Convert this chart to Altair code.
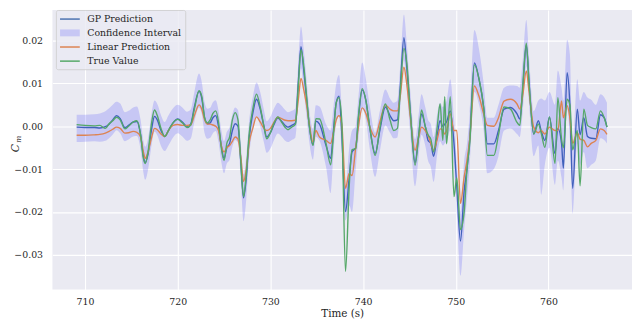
import altair as alt
import pandas as pd

# time (s)
t = [709.1, 710.0, 711.0, 711.6, 712.2, 712.6, 713.0, 713.4, 713.8, 714.3, 714.7, 715.2, 715.6,
     716.0, 716.3, 716.5, 716.8, 717.2, 717.5, 717.8, 718.2, 718.6, 719.0, 719.5, 720.0, 720.5,
     721.0, 721.4, 721.8, 722.3, 722.6, 722.9, 723.2, 723.5, 723.8, 724.1, 724.4, 724.7, 725.0,
     725.3, 725.6, 725.9, 726.2, 726.5, 726.8, 727.1, 727.4, 727.7, 728.1, 728.5, 728.9, 729.3,
     729.6, 730.0, 730.4, 730.8, 731.2, 731.6, 731.9, 732.3, 732.7, 733.0, 733.3, 733.6, 733.9,
     734.2, 734.6, 734.9, 735.3, 736.0, 736.5, 736.8, 737.1, 737.4, 737.7, 738.1, 738.5, 738.8,
     739.2, 739.5, 739.9, 740.3, 740.7, 741.3, 741.8, 742.4, 742.9, 743.3, 743.7, 744.0, 744.4,
     744.7, 745.1, 745.6, 746.0, 746.3, 746.7, 747.0, 747.3, 747.6, 748.0, 748.3, 748.6, 748.8,
     749.0, 749.4, 749.8, 750.1, 750.5, 750.9, 751.2, 751.5, 752.0, 752.5, 753.0, 753.4, 754.1,
     754.6, 755.2, 755.9, 756.6, 756.9, 757.2, 757.6, 757.9, 758.4, 758.9, 759.2, 759.6, 760.1,
     760.7, 761.0, 761.4, 761.6, 762.0, 762.3, 762.6, 763.1, 763.4, 763.8, 764.2, 764.6, 765.1,
     765.6, 766.0, 766.3]

# values in units of 1e-3 (C_m x 1000)
gp_milli = [-0.2, -0.3, -0.3, -0.4, -0.1, 0.5, 1.5, 2.5, 1.8, -0.3, 0.2, 1.0, 1.1,
            -2.0, -7.0, -8.5, -6.5, -0.5, 2.3, 1.5, -1.0, -2.4, -1.0, 0.8, 1.7, 1.0,
            0.0, 0.5, 4.5, 8.2, 6.5, 2.0, 0.6, 0.8, 2.0, 2.5, 0.0, -4.5, -7.5,
            -5.0, -4.0, -1.0, 0.6, 0.0, -8.0, -16.7, -12.0, -3.0, 3.0, 6.3, 4.0, 0.0,
            -2.5, -1.5, 0.5, 1.9, 1.2, 0.2, -0.2, 0.2, 0.8, 10.0, 18.6, 13.0, 6.5,
            0.0, -4.3, 1.2, 0.5, -4.5, -7.5, -1.0, 5.5, 7.0, -1.7, -19.9, -12.0, -6.0,
            -5.0, 2.0, 8.5, 6.0, 0.0, -6.4, -1.0, 4.5, 2.5, 1.3, 1.5, 9.0, 20.7,
            14.0, 3.0, -8.5, -2.0, 2.9, 0.0, -3.3, -4.0, -7.0, -2.0, 1.3, 0.0, 0.5,
            1.0, 3.6, -4.0, -14.0, -26.8, -15.0, -10.0, -3.0, 14.8, 11.0, 4.4, -4.1, -4.1,
            -1.0, 4.0, 4.4, 2.9, 1.7, 8.0, 19.0, 10.0, -1.8, 1.3, -1.0, -3.3, 2.1,
            -6.4, -0.5, -4.0, -9.8, 12.5, 5.0, -14.5, 4.0, -2.0, 2.0, -2.4, -2.8, -2.9,
            2.7, 2.0, -0.2]

lin_milli = [-2.1, -2.1, -2.0, -1.9, -1.6, -1.2, -0.7, -0.2, -0.5, -1.6, -1.5, -1.2, -1.4,
             -2.5, -6.0, -7.5, -6.0, -2.5, -0.5, -0.8, -1.8, -2.4, -1.0, 0.2, 0.4, 0.2,
             0.2, 0.3, 2.5, 5.0, 4.0, 1.5, 0.5, 0.5, 0.3, 0.0, -1.0, -4.5, -6.0,
             -5.0, -4.5, -3.5, -2.5, -3.0, -7.0, -12.9, -10.0, -4.0, -0.5, 2.2, 1.0, -0.5,
             -1.0, -0.5, 1.0, 2.1, 1.8, 1.4, 1.3, 1.3, 1.4, 6.0, 11.2, 8.5, 5.0,
             0.5, -3.7, -1.0, -2.5, -3.3, -4.0, -1.5, 1.5, 2.5, 0.5, -14.5, -11.0, -11.5,
             -5.0, 0.0, 4.3, 3.0, 0.0, -2.5, 1.0, 5.0, 4.0, 3.6, 3.6, 7.0, 13.8,
             10.0, 2.0, -5.6, -2.5, -0.2, -1.0, -2.1, -4.0, -5.6, -3.0, -0.6, -1.0, -1.8,
             -1.0, 2.9, -1.0, -1.0, -18.0, -11.8, -8.0, -3.0, 9.4, 7.0, 2.9, 0.2, 0.0,
             2.0, 5.9, 6.3, 5.2, 4.0, 7.0, 12.9, 8.0, -0.2, -1.5, -1.0, -1.8, -0.2,
             -1.0, -1.0, 5.9, 2.0, 4.8, 2.0, -4.0, -1.5, -3.0, -3.3, -4.8, -4.0, -3.3,
             -0.6, -1.0, -1.9]

true_milli = [0.4, 0.2, 0.1, 0.2, -0.5, 0.6, 1.3, 2.1, 1.5, -0.6, 0.0, 1.0, 1.3,
              -2.0, -7.5, -8.7, -6.0, 1.0, 3.8, 2.5, -0.5, -2.4, -1.0, 0.8, 1.6, 0.8,
              -0.3, 0.3, 4.0, 8.3, 7.0, 2.0, 0.8, 1.5, 3.0, 3.6, 1.0, -5.0, -8.0,
              -4.0, -2.5, 1.5, 3.2, 1.5, -8.0, -16.4, -11.0, -2.0, 4.0, 7.5, 4.5, 0.0,
              -2.9, -1.5, 0.8, 2.2, 1.0, -0.3, -0.8, -0.2, 0.5, 9.0, 17.9, 14.0, 7.0,
              0.0, -4.5, 1.8, 1.7, -4.0, -9.0, -2.0, 5.5, 6.7, 1.0, -33.9, -14.0, -5.5,
              -5.2, 2.5, 8.8, 6.0, 0.0, -6.8, -0.5, 5.2, 1.5, -1.0, -0.5, 8.0, 18.2,
              15.0, 3.0, -9.1, -2.0, 3.8, 0.0, -2.0, -3.0, -6.0, 0.0, 5.2, -3.3, 6.9,
              -4.1, 6.9, -16.4, -12.0, -24.1, -20.0, -10.0, -4.0, 14.4, 11.0, 4.4, -6.8, -6.8,
              -2.0, 4.5, 4.0, 0.9, 0.2, 9.0, 19.4, 10.0, -1.8, 0.5, -1.5, -4.9, 2.2,
              -8.7, 6.7, -3.0, -5.0, 6.3, 5.0, -5.5, -1.0, -13.9, 4.0, 0.2, -0.3, -0.6,
              3.6, 2.0, -0.2]

ci_lo_milli = [-3.7, -3.6, -3.5, -3.6, -3.4, -2.8, -1.9, -0.9, -1.6, -3.5, -3.1, -2.4, -2.3,
               -5.5, -10.8, -12.5, -10.2, -4.2, -1.3, -2.1, -4.6, -5.8, -4.5, -2.6, -1.6, -2.4,
               -3.4, -2.9, 1.0, 4.3, 2.8, -1.6, -2.9, -2.7, -1.6, -1.1, -3.7, -8.3, -11.0,
               -8.7, -7.8, -4.8, -3.2, -3.8, -12.2, -22.2, -17.0, -7.2, -0.8, 2.4, 0.0, -3.8,
               -6.2, -5.2, -3.2, -1.7, -2.4, -3.4, -3.7, -3.2, -2.6, 5.5, 13.5, 8.3, 2.2,
               -3.8, -7.8, -2.5, -3.4, -9.5, -15.6, -6.5, 0.8, 2.3, -7.0, -22.0, -18.5, -20.0,
               -10.0, -2.8, 4.0, 1.5, -5.0, -11.8, -6.0, 0.2, -1.5, -2.8, -2.6, 4.0, 15.3,
               8.8, -2.2, -14.0, -7.0, -2.0, -4.5, -8.0, -9.5, -13.0, -6.5, -3.5, -4.5, -4.0,
               -3.5, -1.0, -9.0, -20.0, -34.9, -24.0, -17.0, -9.0, 8.0, 5.0, -1.0, -11.0, -10.0,
               -7.0, -1.0, -0.5, -1.8, -2.5, 3.0, 14.0, 5.0, -7.0, -4.5, -16.0, -9.0, -5.0,
               -13.7, -8.0, -12.0, -15.0, 4.0, -3.0, -20.6, -4.0, -9.0, -6.0, -9.8, -9.0, -8.0,
               -2.8, -3.2, -4.0]

ci_hi_milli = [2.7, 2.7, 2.8, 3.0, 3.5, 4.2, 5.0, 5.7, 5.3, 3.3, 3.6, 4.4, 4.6,
               1.5, -3.4, -4.8, -2.8, 3.2, 6.0, 5.2, 2.6, 1.0, 2.5, 4.2, 5.0, 4.4,
               3.4, 3.9, 8.0, 12.3, 10.3, 5.6, 4.1, 4.3, 5.6, 6.1, 3.7, -0.8, -3.5,
               -1.3, -0.2, 2.8, 4.4, 3.8, -3.8, -11.2, -7.0, 1.2, 6.8, 10.2, 8.0, 3.8,
               1.2, 2.2, 4.2, 5.5, 4.8, 3.8, 3.3, 3.6, 4.2, 14.5, 23.3, 17.8, 10.8,
               3.8, -0.6, 4.9, 4.6, 0.5, -1.0, 4.5, 10.0, 12.0, 4.0, -14.0, -5.0, -1.0,
               0.0, 7.0, 14.9, 11.0, 5.0, -1.5, 3.5, 8.6, 6.5, 5.5, 6.0, 14.0, 26.1,
               19.5, 8.0, -3.0, 3.0, 7.5, 4.5, 1.5, 0.5, -2.5, 3.0, 5.5, 4.5, 5.0,
               6.0, 11.0, 2.0, -8.0, -20.0, -8.0, -4.0, 3.0, 22.5, 18.0, 10.0, 2.0, 2.0,
               5.0, 9.0, 9.5, 9.4, 9.0, 15.0, 24.8, 16.0, 3.5, 6.0, 6.5, 6.0, 8.0,
               5.0, 13.0, 9.0, 6.0, 20.2, 16.8, -5.0, 11.0, 6.0, 8.0, 6.7, 6.2, 5.0,
               7.5, 6.8, 5.5]

x_ticks = [710, 720, 730, 740, 750, 760]
y_ticks = [-0.03, -0.02, -0.01, 0.00, 0.01, 0.02]
legend_labels = ["GP Prediction", "Confidence Interval", "Linear Prediction", "True Value"]

FONT = "DejaVu Serif"
TXT = "#262626"
C_BLUE, C_ORANGE, C_GREEN = "#4C72B0", "#DD8452", "#55A868"
INTERP = "monotone"

df = pd.DataFrame({
    "t": t,
    "gp": [v / 1000 for v in gp_milli],
    "lin": [v / 1000 for v in lin_milli],
    "tru": [v / 1000 for v in true_milli],
    "lo": [v / 1000 for v in ci_lo_milli],
    "hi": [v / 1000 for v in ci_hi_milli],
})

xs = alt.Scale(domain=[706.49, 769.0], nice=False, zero=False)
ys = alt.Scale(domain=[-0.0381, 0.02716], nice=False, zero=False)

x_axis = alt.Axis(values=x_ticks, format="d", title="Time (s)", grid=True, gridColor="white",
                  gridWidth=1.1, domain=False, ticks=False, tickSize=0, labelPadding=7,
                  labelFont=FONT, labelFontSize=9.5, labelColor=TXT, titleFont=FONT,
                  titleFontSize=10.5, titleFontWeight="normal", titleColor=TXT, titlePadding=3)
y_axis = alt.Axis(values=y_ticks, format=".2f", title=None, grid=True, gridColor="white",
                  gridWidth=1.1, domain=False, ticks=False, tickSize=0, labelPadding=10,
                  labelFont=FONT, labelFontSize=9.5, labelColor=TXT)

base = alt.Chart(df)
gp_line = base.mark_line(color=C_BLUE, strokeWidth=1.4, interpolate=INTERP).encode(
    x=alt.X("t:Q", scale=xs, axis=x_axis), y=alt.Y("gp:Q", scale=ys, axis=y_axis))
band = base.mark_area(color="#0000ff", opacity=0.15, interpolate=INTERP).encode(
    x=alt.X("t:Q", scale=xs), y=alt.Y("lo:Q", scale=ys), y2="hi:Q")
lin_line = base.mark_line(color=C_ORANGE, strokeWidth=1.4, interpolate=INTERP).encode(
    x=alt.X("t:Q", scale=xs), y=alt.Y("lin:Q", scale=ys))
tru_line = base.mark_line(color=C_GREEN, strokeWidth=1.4, interpolate=INTERP).encode(
    x=alt.X("t:Q", scale=xs), y=alt.Y("tru:Q", scale=ys))

one = alt.Chart(pd.DataFrame({"k": [0]}))

# y-axis title C_m (italic C with subscript m)
ylab_c = one.mark_text(angle=270, align="center", baseline="middle", font=FONT,
                       fontStyle="italic", fontSize=11, color=TXT).encode(
    x=alt.value(-37), y=alt.value(140), text=alt.value("C"))
ylab_m = one.mark_text(angle=270, align="center", baseline="middle", font=FONT,
                       fontStyle="italic", fontSize=7.5, color=TXT).encode(
    x=alt.value(-33.5), y=alt.value(131), text=alt.value("m"))

# legend
rows = [9.2, 23.2, 37.5, 51.8]
leg_bg = one.mark_rect(fill="#EAEAF2", fillOpacity=0.8, stroke="#CCCCCC", strokeWidth=0.8,
                       cornerRadius=2).encode(
    x=alt.value(4), x2=alt.value(135), y=alt.value(0.5), y2=alt.value(60.5))
leg_layers = [leg_bg]
line_cols = {0: C_BLUE, 2: C_ORANGE, 3: C_GREEN}
for i, lab in enumerate(legend_labels):
    if i in line_cols:
        leg_layers.append(one.mark_rule(color=line_cols[i], strokeWidth=1.5).encode(
            x=alt.value(7.7), x2=alt.value(27.7), y=alt.value(rows[i])))
    else:
        leg_layers.append(one.mark_rect(color="#0000ff", opacity=0.15).encode(
            x=alt.value(7.7), x2=alt.value(27.7), y=alt.value(rows[i] - 3.5),
            y2=alt.value(rows[i] + 3.5)))
    leg_layers.append(one.mark_text(align="left", baseline="middle", font=FONT, fontSize=9.5,
                                    color=TXT).encode(
        x=alt.value(35.3), y=alt.value(rows[i]), text=alt.value(lab)))

chart = alt.layer(gp_line, band, lin_line, tru_line, ylab_c, ylab_m, *leg_layers).properties(
    width=587, height=283,
    autosize=alt.AutoSizeParams(type="none"),
    padding={"left": 45, "top": 0, "right": 0, "bottom": 31},
).configure_view(fill="#EAEAF2", stroke=None)

chart.save("out.html", embed_options={"renderer": "svg", "actions": False})
